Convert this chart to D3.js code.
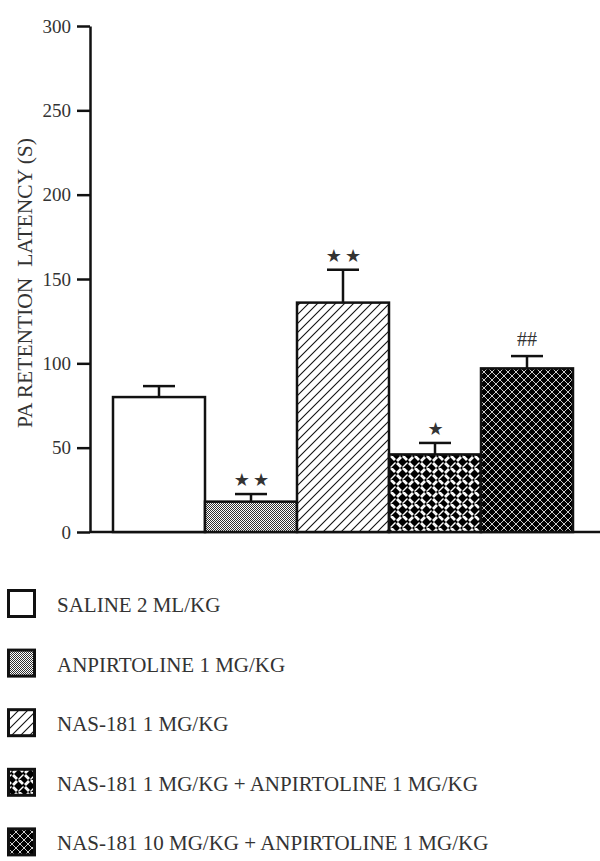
<!DOCTYPE html>
<html><head><meta charset="utf-8">
<script src="https://cdn.jsdelivr.net/npm/d3@7"></script>
<style>body{margin:0;background:#fff}svg{display:block}</style>
</head><body>
<svg id="c" width="600" height="861"></svg>
<script>
const categories = ["SALINE 2 ML/KG","ANPIRTOLINE 1 MG/KG","NAS-181 1 MG/KG","NAS-181 1 MG/KG + ANPIRTOLINE 1 MG/KG","NAS-181 10 MG/KG + ANPIRTOLINE 1 MG/KG"];
const means = [80, 18, 136, 46, 97];
const sems = [6.5, 4.5, 19.5, 6.8, 7.3];
const marks = ["", "★★", "★★", "★", "##"];
const patterns = ["none","dots","diag","weave","cross"];
const yTicks = [0,50,100,150,200,250,300];
const yLabel = "PA RETENTION  LATENCY (S)";

const svg = d3.select("#c");
const font = "'Liberation Serif','Times New Roman',serif";
const defs = svg.append("defs");

// patterns
const pDots = defs.append("pattern").attr("id","dots").attr("patternUnits","userSpaceOnUse").attr("width",2).attr("height",2);
pDots.append("rect").attr("width",2).attr("height",2).attr("fill","#fff").attr("shape-rendering","crispEdges");
pDots.append("rect").attr("width",1).attr("height",1).attr("fill","#333").attr("shape-rendering","crispEdges");
pDots.append("rect").attr("x",1).attr("y",1).attr("width",1).attr("height",1).attr("fill","#333").attr("shape-rendering","crispEdges");

const pDiag = defs.append("pattern").attr("id","diag").attr("patternUnits","userSpaceOnUse").attr("width",9).attr("height",9);
pDiag.append("rect").attr("width",9).attr("height",9).attr("fill","#fff");
pDiag.append("path").attr("d","M0,9L9,0M-1,1L1,-1M8,10L10,8").attr("stroke","#111").attr("stroke-width",1.1);

const pWeave = defs.append("pattern").attr("id","weave").attr("patternUnits","userSpaceOnUse").attr("width",12).attr("height",12);
pWeave.append("rect").attr("width",12).attr("height",12).attr("fill","#000");
pWeave.append("path").attr("d","M0.5,4.5L4.5,0.5M1.5,5.5L5.5,1.5M6.5,0.5L10.5,4.5M7.5,-0.5L11.5,3.5M0.5,7.5L4.5,11.5M1.5,6.5L5.5,10.5M6.5,11.5L10.5,7.5M7.5,10.5L11.5,6.5")
  .attr("stroke","#fff").attr("stroke-width",1.4).attr("fill","none");

const pCross = defs.append("pattern").attr("id","cross").attr("patternUnits","userSpaceOnUse").attr("width",8).attr("height",8);
pCross.append("rect").attr("width",8).attr("height",8).attr("fill","#000");
pCross.append("path").attr("d","M0,0L8,8M0,8L8,0").attr("stroke","#ccc").attr("stroke-width",1);

const fillOf = p => p === "none" ? "#fff" : `url(#${p})`;

const y = d3.scaleLinear().domain([0,300]).range([532,26]);
const x = d3.scaleBand().domain(categories).range([113,573]).padding(0);

// x baseline
svg.append("line").attr("x1",90).attr("x2",600).attr("y1",y(0)).attr("y2",y(0)).attr("stroke","#111").attr("stroke-width",2.5);

// bars
categories.forEach((c,i)=>{
  const bx = x(c), bw = x.bandwidth(), cx = bx + bw/2;
  svg.append("rect").attr("x",bx).attr("y",y(means[i])).attr("width",bw).attr("height",y(0)-y(means[i]))
    .attr("fill",fillOf(patterns[i])).attr("stroke","#111").attr("stroke-width",2.5);
  const top = y(means[i]+sems[i]);
  svg.append("line").attr("x1",cx).attr("x2",cx).attr("y1",y(means[i])).attr("y2",top).attr("stroke","#111").attr("stroke-width",2.5);
  svg.append("line").attr("x1",cx-16).attr("x2",cx+16).attr("y1",top).attr("y2",top).attr("stroke","#111").attr("stroke-width",2.5);
  if (marks[i]) {
    const isHash = marks[i].includes("#");
    svg.append("text").attr("x",cx + (isHash?0:2)).attr("y",top-(isHash?10:8)).attr("text-anchor","middle")
      .attr("font-family", isHash ? font : "'DejaVu Sans',sans-serif")
      .attr("font-size", isHash ? 20 : 18).attr("letter-spacing", isHash ? 0 : 3)
      .attr("fill","#333").text(marks[i]);
  }
});

// y axis
const ax = svg.append("g").attr("transform","translate(90,0)")
  .call(d3.axisLeft(y).tickValues(yTicks).tickSize(13).tickSizeOuter(0).tickPadding(6).tickFormat(d3.format("d")));
ax.select(".domain").attr("stroke","#111").attr("stroke-width",2.5);
ax.selectAll(".tick line").attr("stroke","#111").attr("stroke-width",2.5);
ax.selectAll(".tick text").attr("font-family",font).attr("font-size",19).attr("fill","#333");

svg.append("text").attr("transform","translate(32,283) rotate(-90)").attr("text-anchor","middle")
  .attr("font-family",font).attr("font-size",21.5).attr("fill","#333").attr("xml:space","preserve")
  .style("white-space","pre").text(yLabel);

// legend
const ly = d3.scaleBand().domain(categories).range([589,887]);
categories.forEach((c,i)=>{
  const t = ly(c);
  svg.append("rect").attr("x",8.5).attr("y",t+1.5).attr("width",26).attr("height",26)
    .attr("fill",fillOf(patterns[i])).attr("stroke","#111").attr("stroke-width",3);
  svg.append("text").attr("x",57).attr("y",t+23).attr("font-family",font).attr("font-size",21).attr("fill","#333").text(c);
});
</script>
</body></html>
